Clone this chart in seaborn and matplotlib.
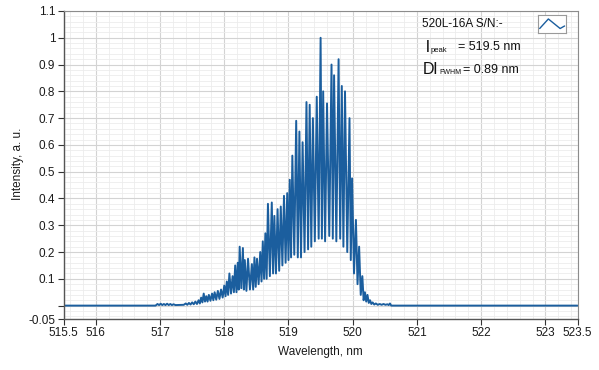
import matplotlib
matplotlib.use("Agg")
import matplotlib.pyplot as plt
from matplotlib.ticker import MultipleLocator
import pandas as pd
import seaborn as sns

# Spectrum trace (alternating peak / valley vertices)
wavelength = [
    515.50, 516.93,
    516.96, 516.985, 517.01, 517.035, 517.06, 517.085, 517.11, 517.135, 517.16, 517.185, 517.21, 517.24, 517.37,
    517.40, 517.425, 517.45, 517.475, 517.50, 517.525, 517.55, 517.575, 517.60, 517.62,
    517.64, 517.66, 517.68, 517.70, 517.72, 517.74, 517.76, 517.785, 517.81, 517.83,
    517.85, 517.875, 517.90, 517.925, 517.95, 517.975, 518.00, 518.02,
    518.04, 518.06, 518.08, 518.105, 518.13, 518.15, 518.17, 518.19, 518.21, 518.225,
    518.24, 518.265, 518.29, 518.305, 518.32, 518.345, 518.37, 518.40, 518.43, 518.45,
    518.47, 518.49, 518.51, 518.535, 518.56, 518.58, 518.60, 518.62, 518.64, 518.66,
    518.68, 518.71, 518.74, 518.76, 518.78, 518.805, 518.83, 518.855, 518.88, 518.905,
    518.93, 518.955, 518.98, 519.00, 519.02, 519.04, 519.06, 519.09, 519.12, 519.145,
    519.17, 519.195, 519.22, 519.25, 519.28, 519.305, 519.33, 519.355, 519.38, 519.41,
    519.44, 519.47, 519.50, 519.52, 519.54, 519.57, 519.60, 519.635, 519.67, 519.69,
    519.71, 519.745, 519.78, 519.805, 519.83, 519.855, 519.88, 519.915, 519.95, 519.97,
    519.99, 520.02, 520.05, 520.075, 520.10, 520.125, 520.15, 520.17, 520.19, 520.21,
    520.23, 520.25, 520.27, 520.29, 520.31, 520.335, 520.36, 520.39, 520.42, 520.45,
    520.48, 520.51, 520.54, 520.56, 520.58, 520.60, 523.50,
]
intensity = [
    0.0, 0.0,
    0.006, 0.002, 0.007, 0.002, 0.006, 0.002, 0.007, 0.002, 0.006, 0.002, 0.005, 0.002, 0.003,
    0.008, 0.003, 0.010, 0.004, 0.012, 0.005, 0.015, 0.006, 0.020, 0.008,
    0.030, 0.012, 0.045, 0.015, 0.035, 0.015, 0.040, 0.018, 0.045, 0.020,
    0.050, 0.022, 0.055, 0.025, 0.060, 0.030, 0.075, 0.035,
    0.09, 0.04, 0.12, 0.045, 0.11, 0.05, 0.15, 0.05, 0.16, 0.06,
    0.22, 0.065, 0.215, 0.06, 0.17, 0.055, 0.175, 0.06, 0.155, 0.06,
    0.18, 0.07, 0.175, 0.08, 0.20, 0.09, 0.24, 0.10, 0.27, 0.10,
    0.38, 0.11, 0.385, 0.12, 0.335, 0.12, 0.36, 0.13, 0.37, 0.15,
    0.41, 0.16, 0.42, 0.17, 0.47, 0.18, 0.56, 0.19, 0.69, 0.18,
    0.65, 0.18, 0.61, 0.20, 0.76, 0.21, 0.75, 0.22, 0.70, 0.24,
    0.78, 0.25, 1.00, 0.25, 0.80, 0.24, 0.755, 0.26, 0.90, 0.25,
    0.86, 0.24, 0.92, 0.25, 0.82, 0.22, 0.80, 0.20, 0.70, 0.17,
    0.475, 0.12, 0.32, 0.08, 0.22, 0.04, 0.11, 0.02, 0.05, 0.015,
    0.04, 0.01, 0.02, 0.006, 0.012, 0.004, 0.008, 0.003, 0.006, 0.003,
    0.006, 0.003, 0.005, 0.002, 0.008, 0.0, 0.0,
]

x_ticks = [515.5, 516, 517, 518, 519, 520, 521, 522, 523, 523.5]
x_labels = ["515.5", "516", "517", "518", "519", "520", "521", "522", "523", "523.5"]
y_ticks = [-0.05, 0, 0.1, 0.2, 0.3, 0.4, 0.5, 0.6, 0.7, 0.8, 0.9, 1.0, 1.1]
y_labels = ["-0.05", "", "0.1", "0.2", "0.3", "0.4", "0.5", "0.6", "0.7", "0.8", "0.9", "1", "1.1"]

sns.set_style("white")
plt.rcParams['font.family'] = ['Liberation Sans', 'DejaVu Sans']

W, H = 599, 370
fig = plt.figure(figsize=(W / 100, H / 100), dpi=100)
ax = fig.add_axes([63.7 / W, 1 - 319 / H, (577.5 - 63.7) / W, (319 - 11) / H])

df = pd.DataFrame({"Wavelength": wavelength, "Intensity": intensity})
sns.lineplot(data=df, x="Wavelength", y="Intensity", ax=ax, sort=False,
             estimator=None, color="#1b5e9e", linewidth=1.4)

ax.set_xlim(515.5, 523.5)
ax.set_ylim(-0.05, 1.1)
ax.set_xticks(x_ticks)
ax.set_xticklabels(x_labels)
ax.set_yticks(y_ticks)
ax.set_yticklabels(y_labels)
ax.xaxis.set_minor_locator(MultipleLocator(0.2))
ax.yaxis.set_minor_locator(MultipleLocator(0.02))
ax.grid(True, which="major", color="#d3d3d3", linewidth=0.8)
ax.grid(True, which="minor", color="#ececec", linewidth=0.6)
ax.set_axisbelow(True)
ax.tick_params(axis="both", which="major", direction="out", length=4, width=0.8,
               color="#333333", labelsize=8.5, labelcolor="#1a1a1a", pad=2,
               bottom=True, left=True)
ax.tick_params(axis="both", which="minor", length=0)
for side in ["left", "bottom"]:
    ax.spines[side].set_color("#555555")
    ax.spines[side].set_linewidth(1.0)
for side in ["top", "right"]:
    ax.spines[side].set_color("#8c8c8c")
    ax.spines[side].set_linewidth(0.8)

ax.set_xlabel("")
ax.set_ylabel("")
fig.text(320 / W, 1 - 352 / H, "Wavelength, nm", ha="center", va="center",
         fontsize=8.5, color="#1a1a1a")
fig.text(18 / W, 1 - 164 / H, "Intensity, a. u.", ha="center", va="center",
         rotation=90, fontsize=8.5, color="#1a1a1a")


def px(x, y):
    return x / W, 1 - y / H


# plot legend text
fig.text(*px(422, 24), "520L-16A S/N:-", ha="left", va="center", fontsize=8.5, color="#111111")
fig.text(*px(426, 47), "l", ha="left", va="center", fontsize=12, color="#111111")
fig.text(*px(430.5, 51), "peak", ha="left", va="center", fontsize=5.5, color="#111111")
fig.text(*px(458, 47), "= 519.5 nm", ha="left", va="center", fontsize=9, color="#111111")
fig.text(*px(423, 70), "Dl", ha="left", va="center", fontsize=11.5, color="#111111")
fig.text(*px(439, 73), "FWHM", ha="left", va="center", fontsize=5, color="#111111")
fig.text(*px(463, 70), "= 0.89 nm", ha="left", va="center", fontsize=9, color="#111111")

# legend glyph
lg = fig.add_axes([538 / W, 1 - 33 / H, 28 / W, 18 / H])
lg.plot([0.06, 0.37, 0.79, 0.95], [0.25, 0.78, 0.25, 0.39], color="#1b5e9e", linewidth=1.0)
lg.set_xlim(0, 1)
lg.set_ylim(0, 1)
lg.set_xticks([])
lg.set_yticks([])
lg.set_facecolor("white")
for s in lg.spines.values():
    s.set_color("#9a9a9a")
    s.set_linewidth(0.8)

fig.savefig("out.png", dpi=100)
